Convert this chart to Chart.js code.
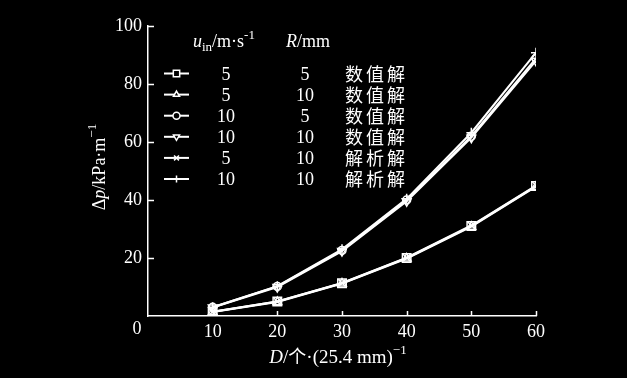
<!DOCTYPE html>
<html>
<head>
<meta charset="utf-8">
<script src="https://cdn.jsdelivr.net/npm/chart.js@4/dist/chart.umd.min.js"></script>
<style>
  html, body { margin: 0; padding: 0; background: #000; }
  #wrap { width: 627px; height: 378px; }
</style>
</head>
<body>
<div id="wrap"><canvas id="chart" width="627" height="378"></canvas></div>
<script>
// D, holes per 25.4 mm
const diameters = [10, 20, 30, 40, 50, 60];
// pressure drop, kPa/m
const u5r5Num   = [1.5, 5.0, 11.3, 20.0, 31.0, 44.8];
const u5r10Num  = [1.4, 4.8, 11.2, 19.8, 30.8, 44.6];
const u10r5Num  = [3.0, 10.2, 22.6, 40.0, 62.0, 88.8];
const u10r10Num = [2.9, 10.0, 22.4, 39.6, 61.5, 88.0];
const u5r10Ana  = [1.5, 5.0, 11.4, 20.1, 31.2, 45.0];
const u10r10Ana = [3.0, 10.3, 23.0, 40.4, 63.2, 90.8];

const legendU = ['5', '5', '10', '10', '5', '10'];
const legendR = ['5', '10', '5', '10', '10', '10'];
const legendKind = ['数值解', '数值解', '数值解', '数值解', '解析解', '解析解'];

const serif = '"Liberation Serif", "DejaVu Serif", serif';
const cjk = '"Noto Sans CJK SC", sans-serif';

const markers = [
  { pointStyle: 'rect', radius: 6, rotation: 0 },
  { pointStyle: 'triangle', radius: 5, rotation: 0 },
  { pointStyle: 'circle', radius: 4, rotation: 0 },
  { pointStyle: 'triangle', radius: 5, rotation: 180 },
  { pointStyle: 'crossRot', radius: 5, rotation: 0 },
  { pointStyle: 'cross', radius: 5, rotation: 0 }
];

const series = [u5r5Num, u5r10Num, u10r5Num, u10r10Num, u5r10Ana, u10r10Ana];

const datasets = series.map((vals, i) => ({
  data: vals.map((v, j) => ({ x: diameters[j], y: v })),
  borderColor: '#fff',
  borderWidth: 2,
  backgroundColor: 'rgba(0,0,0,0)',
  pointStyle: markers[i].pointStyle,
  pointRadius: markers[i].radius,
  pointRotation: markers[i].rotation,
  pointBorderColor: '#fff',
  pointBorderWidth: 1.5,
  pointBackgroundColor: 'rgba(0,0,0,0)',
  tension: 0
}));

function richText(ctx, parts, x, y, align) {
  let w = 0;
  parts.forEach(p => { ctx.font = p[1]; w += ctx.measureText(p[0]).width; });
  let cx = align === 'center' ? x - w / 2 : x;
  parts.forEach(p => {
    ctx.font = p[1];
    ctx.fillText(p[0], cx, y + (p[2] || 0));
    cx += ctx.measureText(p[0]).width;
  });
}

const decor = {
  id: 'decor',
  afterDraw(chart) {
    const ctx = chart.ctx;
    const xs = chart.scales.x, ys = chart.scales.y;
    const x0 = xs.getPixelForValue(0), y0 = ys.getPixelForValue(0);
    ctx.save();
    ctx.strokeStyle = '#fff';
    ctx.fillStyle = '#fff';
    ctx.lineWidth = 1.5;
    // inward tick marks
    ctx.beginPath();
    ys.ticks.forEach(t => {
      if (t.value === 0) return;
      const p = Math.round(ys.getPixelForValue(t.value)) + 0.5;
      ctx.moveTo(x0, p); ctx.lineTo(x0 + 6, p);
    });
    xs.ticks.forEach(t => {
      if (t.value === 0) return;
      const p = Math.round(xs.getPixelForValue(t.value)) + 0.5;
      ctx.moveTo(p, y0); ctx.lineTo(p, y0 - 5);
    });
    ctx.stroke();

    ctx.textBaseline = 'alphabetic';
    ctx.textAlign = 'left';
    // origin label
    ctx.font = '18px ' + serif;
    const zw = ctx.measureText('0').width;
    ctx.fillText('0', x0 - 11 - zw / 2, y0 + 18);

    const f18 = '18px ' + serif, i18 = 'italic 18px ' + serif, s13 = '13px ' + serif;
    const f19 = '19px ' + serif, i19 = 'italic 19px ' + serif;
    // x title
    richText(ctx, [
      ['D', i19], ['/', f19], ['个', '18px ' + cjk], ['·(25.4 mm)', f19], ['−1', s13, -9]
    ], (xs.left + xs.right) / 2 - 4, 363, 'center');

    // y title
    ctx.save();
    ctx.translate(105, 167);
    ctx.rotate(-Math.PI / 2);
    richText(ctx, [
      ['Δ', f18], ['p', i18], ['/kPa·m', f18], ['−1', s13, -9]
    ], 0, 0, 'center');
    ctx.restore();

    // legend header
    richText(ctx, [
      ['u', i18], ['in', s13, 4], ['/m·s', f18], ['-1', s13, -8]
    ], 193, 47, 'left');
    richText(ctx, [['R', i18], ['/mm', f18]], 286, 47, 'left');

    // legend rows
    for (let i = 0; i < 6; i++) {
      const cy = 73.5 + i * 21.1;
      ctx.strokeStyle = '#fff';
      ctx.lineWidth = 2;
      ctx.beginPath();
      ctx.moveTo(164, cy); ctx.lineTo(189, cy);
      ctx.stroke();
      ctx.fillStyle = '#000';
      ctx.lineWidth = 1.5;
      Chart.helpers.drawPoint(ctx, {
        pointStyle: markers[i].pointStyle,
        radius: markers[i].pointStyle === 'rect' ? 4.5 : 3.5,
        rotation: markers[i].rotation,
        borderWidth: 1.5
      }, 176.5, cy);
      ctx.fillStyle = '#fff';
      ctx.font = '18px ' + serif;
      ctx.textAlign = 'center';
      ctx.fillText(legendU[i], 226, cy + 6);
      ctx.fillText(legendR[i], 305, cy + 6);
      ctx.font = '18px ' + cjk;
      ctx.textAlign = 'left';
      const chars = Array.from(legendKind[i]);
      chars.forEach((c, k) => ctx.fillText(c, 345 + k * 21, cy + 7));
    }
    ctx.restore();
  }
};

new Chart(document.getElementById('chart').getContext('2d'), {
  type: 'line',
  data: { datasets: datasets },
  options: {
    responsive: false,
    animation: false,
    devicePixelRatio: 1,
    layout: { padding: { top: 26, right: 91, left: 0, bottom: 0 } },
    plugins: { legend: { display: false }, tooltip: { enabled: false } },
    scales: {
      x: {
        type: 'linear',
        min: 0, max: 60,
        afterFit(scale) { scale.height = 62; },
        grid: { display: false, drawTicks: false },
        border: { display: true, color: '#fff', width: 1.5 },
        ticks: {
          stepSize: 10,
          color: '#fff',
          padding: 5,
          font: { family: serif, size: 18 },
          callback: v => (v === 0 ? '' : v)
        }
      },
      y: {
        min: 0, max: 100,
        afterFit(scale) { scale.width = 148; },
        grid: { display: false, drawTicks: false },
        border: { display: true, color: '#fff', width: 1.5 },
        ticks: {
          stepSize: 20,
          color: '#fff',
          padding: 6,
          font: { family: serif, size: 18 },
          callback: v => (v === 0 ? '' : v)
        }
      }
    }
  },
  plugins: [decor]
});
</script>
</body>
</html>
